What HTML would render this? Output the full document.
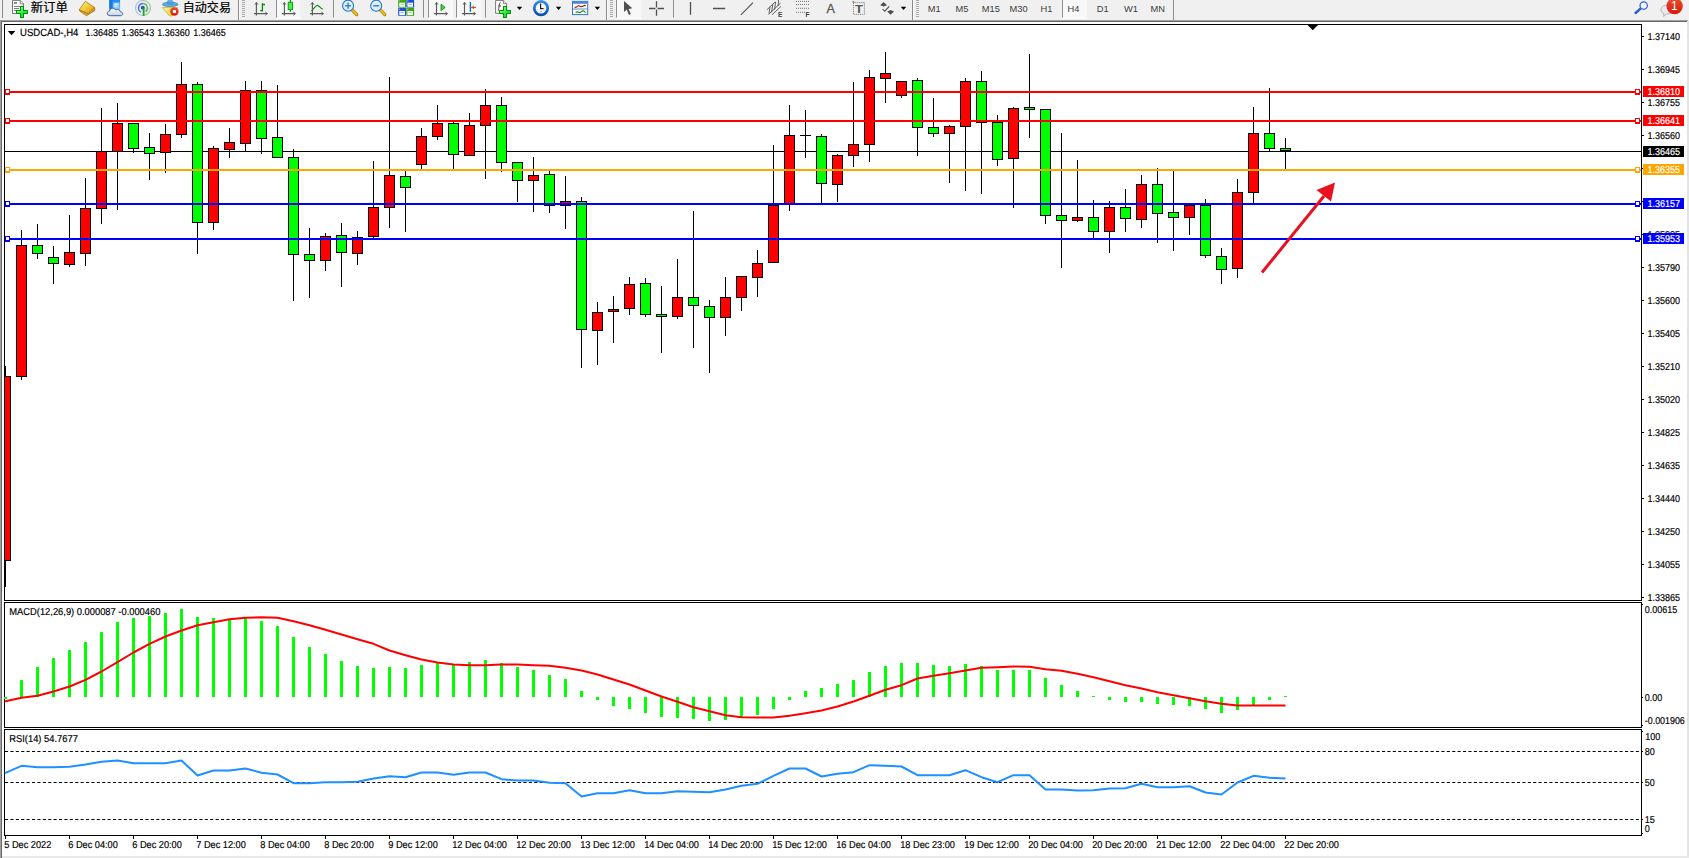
<!DOCTYPE html>
<html lang="zh"><head><meta charset="utf-8"><title>USDCAD-,H4</title>
<style>
html,body{margin:0;padding:0;}
body{width:1689px;height:858px;overflow:hidden;background:#f0f0f0;position:relative;font-family:"Liberation Sans","Noto Sans CJK SC",sans-serif;}
svg{display:block}
</style></head><body>
<svg id="chart" width="1689" height="858" viewBox="0 0 1689 858" style="position:absolute;left:0;top:0">
<g shape-rendering="crispEdges">
<rect x="0" y="19" width="1689" height="1" fill="#f4f4f4"/>
<rect x="0" y="20" width="1688" height="1" fill="#a0a0a0"/>
<rect x="0" y="21" width="1688" height="1" fill="#696969"/>
<rect x="0" y="22" width="1689" height="836" fill="#ffffff"/>
<rect x="0" y="20" width="1" height="838" fill="#a0a0a0"/>
<rect x="1" y="21" width="1" height="837" fill="#696969"/>
<rect x="1687" y="21" width="2" height="837" fill="#e3e3e3"/>
<rect x="2" y="856" width="1687" height="2" fill="#e9e9e9"/>
<rect x="5" y="151" width="1636" height="1" fill="#000"/>
<rect x="5" y="366" width="1" height="221" fill="#000"/>
<rect x="0" y="376" width="11" height="185" fill="#000"/>
<rect x="1" y="377" width="9" height="183" fill="#ff0000"/>
<rect x="21" y="230" width="1" height="150" fill="#000"/>
<rect x="16" y="245" width="11" height="132" fill="#000"/>
<rect x="17" y="246" width="9" height="130" fill="#ff0000"/>
<rect x="37" y="224" width="1" height="35" fill="#000"/>
<rect x="32" y="245" width="11" height="9" fill="#000"/>
<rect x="33" y="246" width="9" height="7" fill="#00ff00"/>
<rect x="53" y="246" width="1" height="38" fill="#000"/>
<rect x="48" y="257" width="11" height="7" fill="#000"/>
<rect x="49" y="258" width="9" height="5" fill="#00ff00"/>
<rect x="69" y="215" width="1" height="52" fill="#000"/>
<rect x="64" y="252" width="11" height="13" fill="#000"/>
<rect x="65" y="253" width="9" height="11" fill="#ff0000"/>
<rect x="85" y="178" width="1" height="88" fill="#000"/>
<rect x="80" y="208" width="11" height="46" fill="#000"/>
<rect x="81" y="209" width="9" height="44" fill="#ff0000"/>
<rect x="101" y="108" width="1" height="116" fill="#000"/>
<rect x="96" y="151" width="11" height="58" fill="#000"/>
<rect x="97" y="152" width="9" height="56" fill="#ff0000"/>
<rect x="117" y="103" width="1" height="107" fill="#000"/>
<rect x="112" y="123" width="11" height="29" fill="#000"/>
<rect x="113" y="124" width="9" height="27" fill="#ff0000"/>
<rect x="133" y="123" width="1" height="30" fill="#000"/>
<rect x="128" y="123" width="11" height="26" fill="#000"/>
<rect x="129" y="124" width="9" height="24" fill="#00ff00"/>
<rect x="149" y="133" width="1" height="47" fill="#000"/>
<rect x="144" y="147" width="11" height="7" fill="#000"/>
<rect x="145" y="148" width="9" height="5" fill="#00ff00"/>
<rect x="165" y="124" width="1" height="49" fill="#000"/>
<rect x="160" y="134" width="11" height="19" fill="#000"/>
<rect x="161" y="135" width="9" height="17" fill="#ff0000"/>
<rect x="181" y="62" width="1" height="76" fill="#000"/>
<rect x="176" y="84" width="11" height="51" fill="#000"/>
<rect x="177" y="85" width="9" height="49" fill="#ff0000"/>
<rect x="197" y="82" width="1" height="172" fill="#000"/>
<rect x="192" y="84" width="11" height="139" fill="#000"/>
<rect x="193" y="85" width="9" height="137" fill="#00ff00"/>
<rect x="213" y="146" width="1" height="84" fill="#000"/>
<rect x="208" y="148" width="11" height="75" fill="#000"/>
<rect x="209" y="149" width="9" height="73" fill="#ff0000"/>
<rect x="229" y="128" width="1" height="30" fill="#000"/>
<rect x="224" y="142" width="11" height="8" fill="#000"/>
<rect x="225" y="143" width="9" height="6" fill="#ff0000"/>
<rect x="245" y="81" width="1" height="70" fill="#000"/>
<rect x="240" y="90" width="11" height="54" fill="#000"/>
<rect x="241" y="91" width="9" height="52" fill="#ff0000"/>
<rect x="261" y="81" width="1" height="73" fill="#000"/>
<rect x="256" y="90" width="11" height="49" fill="#000"/>
<rect x="257" y="91" width="9" height="47" fill="#00ff00"/>
<rect x="277" y="85" width="1" height="73" fill="#000"/>
<rect x="272" y="137" width="11" height="21" fill="#000"/>
<rect x="273" y="138" width="9" height="19" fill="#00ff00"/>
<rect x="293" y="149" width="1" height="152" fill="#000"/>
<rect x="288" y="157" width="11" height="98" fill="#000"/>
<rect x="289" y="158" width="9" height="96" fill="#00ff00"/>
<rect x="309" y="228" width="1" height="70" fill="#000"/>
<rect x="304" y="254" width="11" height="7" fill="#000"/>
<rect x="305" y="255" width="9" height="5" fill="#00ff00"/>
<rect x="325" y="233" width="1" height="38" fill="#000"/>
<rect x="320" y="236" width="11" height="25" fill="#000"/>
<rect x="321" y="237" width="9" height="23" fill="#ff0000"/>
<rect x="341" y="223" width="1" height="64" fill="#000"/>
<rect x="336" y="235" width="11" height="18" fill="#000"/>
<rect x="337" y="236" width="9" height="16" fill="#00ff00"/>
<rect x="357" y="231" width="1" height="34" fill="#000"/>
<rect x="352" y="237" width="11" height="17" fill="#000"/>
<rect x="353" y="238" width="9" height="15" fill="#ff0000"/>
<rect x="373" y="161" width="1" height="77" fill="#000"/>
<rect x="368" y="207" width="11" height="30" fill="#000"/>
<rect x="369" y="208" width="9" height="28" fill="#ff0000"/>
<rect x="389" y="77" width="1" height="151" fill="#000"/>
<rect x="384" y="175" width="11" height="33" fill="#000"/>
<rect x="385" y="176" width="9" height="31" fill="#ff0000"/>
<rect x="405" y="171" width="1" height="61" fill="#000"/>
<rect x="400" y="176" width="11" height="12" fill="#000"/>
<rect x="401" y="177" width="9" height="10" fill="#00ff00"/>
<rect x="421" y="128" width="1" height="41" fill="#000"/>
<rect x="416" y="136" width="11" height="29" fill="#000"/>
<rect x="417" y="137" width="9" height="27" fill="#ff0000"/>
<rect x="437" y="105" width="1" height="35" fill="#000"/>
<rect x="432" y="123" width="11" height="14" fill="#000"/>
<rect x="433" y="124" width="9" height="12" fill="#ff0000"/>
<rect x="453" y="122" width="1" height="47" fill="#000"/>
<rect x="448" y="123" width="11" height="32" fill="#000"/>
<rect x="449" y="124" width="9" height="30" fill="#00ff00"/>
<rect x="469" y="113" width="1" height="43" fill="#000"/>
<rect x="464" y="125" width="11" height="31" fill="#000"/>
<rect x="465" y="126" width="9" height="29" fill="#ff0000"/>
<rect x="485" y="89" width="1" height="90" fill="#000"/>
<rect x="480" y="105" width="11" height="21" fill="#000"/>
<rect x="481" y="106" width="9" height="19" fill="#ff0000"/>
<rect x="501" y="97" width="1" height="75" fill="#000"/>
<rect x="496" y="105" width="11" height="58" fill="#000"/>
<rect x="497" y="106" width="9" height="56" fill="#00ff00"/>
<rect x="517" y="162" width="1" height="40" fill="#000"/>
<rect x="512" y="162" width="11" height="19" fill="#000"/>
<rect x="513" y="163" width="9" height="17" fill="#00ff00"/>
<rect x="533" y="157" width="1" height="55" fill="#000"/>
<rect x="528" y="175" width="11" height="6" fill="#000"/>
<rect x="529" y="176" width="9" height="4" fill="#ff0000"/>
<rect x="549" y="171" width="1" height="42" fill="#000"/>
<rect x="544" y="174" width="11" height="32" fill="#000"/>
<rect x="545" y="175" width="9" height="30" fill="#00ff00"/>
<rect x="565" y="176" width="1" height="53" fill="#000"/>
<rect x="560" y="201" width="11" height="5" fill="#000"/>
<rect x="561" y="202" width="9" height="3" fill="#ff0000"/>
<rect x="581" y="197" width="1" height="171" fill="#000"/>
<rect x="576" y="201" width="11" height="129" fill="#000"/>
<rect x="577" y="202" width="9" height="127" fill="#00ff00"/>
<rect x="597" y="302" width="1" height="63" fill="#000"/>
<rect x="592" y="312" width="11" height="19" fill="#000"/>
<rect x="593" y="313" width="9" height="17" fill="#ff0000"/>
<rect x="613" y="296" width="1" height="47" fill="#000"/>
<rect x="608" y="309" width="11" height="3" fill="#000"/>
<rect x="609" y="310" width="9" height="1" fill="#ff0000"/>
<rect x="629" y="277" width="1" height="38" fill="#000"/>
<rect x="624" y="284" width="11" height="25" fill="#000"/>
<rect x="625" y="285" width="9" height="23" fill="#ff0000"/>
<rect x="645" y="278" width="1" height="39" fill="#000"/>
<rect x="640" y="283" width="11" height="32" fill="#000"/>
<rect x="641" y="284" width="9" height="30" fill="#00ff00"/>
<rect x="661" y="286" width="1" height="67" fill="#000"/>
<rect x="656" y="314" width="11" height="3" fill="#000"/>
<rect x="657" y="315" width="9" height="1" fill="#00ff00"/>
<rect x="677" y="259" width="1" height="60" fill="#000"/>
<rect x="672" y="297" width="11" height="20" fill="#000"/>
<rect x="673" y="298" width="9" height="18" fill="#ff0000"/>
<rect x="693" y="211" width="1" height="137" fill="#000"/>
<rect x="688" y="297" width="11" height="9" fill="#000"/>
<rect x="689" y="298" width="9" height="7" fill="#00ff00"/>
<rect x="709" y="300" width="1" height="73" fill="#000"/>
<rect x="704" y="306" width="11" height="12" fill="#000"/>
<rect x="705" y="307" width="9" height="10" fill="#00ff00"/>
<rect x="725" y="277" width="1" height="59" fill="#000"/>
<rect x="720" y="297" width="11" height="21" fill="#000"/>
<rect x="721" y="298" width="9" height="19" fill="#ff0000"/>
<rect x="741" y="276" width="1" height="35" fill="#000"/>
<rect x="736" y="276" width="11" height="22" fill="#000"/>
<rect x="737" y="277" width="9" height="20" fill="#ff0000"/>
<rect x="757" y="250" width="1" height="47" fill="#000"/>
<rect x="752" y="263" width="11" height="15" fill="#000"/>
<rect x="753" y="264" width="9" height="13" fill="#ff0000"/>
<rect x="773" y="145" width="1" height="118" fill="#000"/>
<rect x="768" y="205" width="11" height="58" fill="#000"/>
<rect x="769" y="206" width="9" height="56" fill="#ff0000"/>
<rect x="789" y="105" width="1" height="106" fill="#000"/>
<rect x="784" y="135" width="11" height="70" fill="#000"/>
<rect x="785" y="136" width="9" height="68" fill="#ff0000"/>
<rect x="805" y="110" width="1" height="48" fill="#000"/>
<rect x="800" y="135" width="11" height="1" fill="#000"/>
<rect x="821" y="134" width="1" height="69" fill="#000"/>
<rect x="816" y="136" width="11" height="48" fill="#000"/>
<rect x="817" y="137" width="9" height="46" fill="#00ff00"/>
<rect x="837" y="154" width="1" height="48" fill="#000"/>
<rect x="832" y="155" width="11" height="30" fill="#000"/>
<rect x="833" y="156" width="9" height="28" fill="#ff0000"/>
<rect x="853" y="82" width="1" height="85" fill="#000"/>
<rect x="848" y="144" width="11" height="12" fill="#000"/>
<rect x="849" y="145" width="9" height="10" fill="#ff0000"/>
<rect x="869" y="70" width="1" height="92" fill="#000"/>
<rect x="864" y="77" width="11" height="68" fill="#000"/>
<rect x="865" y="78" width="9" height="66" fill="#ff0000"/>
<rect x="885" y="52" width="1" height="51" fill="#000"/>
<rect x="880" y="73" width="11" height="6" fill="#000"/>
<rect x="881" y="74" width="9" height="4" fill="#ff0000"/>
<rect x="901" y="81" width="1" height="17" fill="#000"/>
<rect x="896" y="81" width="11" height="15" fill="#000"/>
<rect x="897" y="82" width="9" height="13" fill="#ff0000"/>
<rect x="917" y="78" width="1" height="78" fill="#000"/>
<rect x="912" y="80" width="11" height="48" fill="#000"/>
<rect x="913" y="81" width="9" height="46" fill="#00ff00"/>
<rect x="933" y="98" width="1" height="39" fill="#000"/>
<rect x="928" y="127" width="11" height="7" fill="#000"/>
<rect x="929" y="128" width="9" height="5" fill="#00ff00"/>
<rect x="949" y="125" width="1" height="58" fill="#000"/>
<rect x="944" y="126" width="11" height="8" fill="#000"/>
<rect x="945" y="127" width="9" height="6" fill="#ff0000"/>
<rect x="965" y="78" width="1" height="113" fill="#000"/>
<rect x="960" y="81" width="11" height="46" fill="#000"/>
<rect x="961" y="82" width="9" height="44" fill="#ff0000"/>
<rect x="981" y="71" width="1" height="123" fill="#000"/>
<rect x="976" y="81" width="11" height="42" fill="#000"/>
<rect x="977" y="82" width="9" height="40" fill="#00ff00"/>
<rect x="997" y="115" width="1" height="51" fill="#000"/>
<rect x="992" y="122" width="11" height="38" fill="#000"/>
<rect x="993" y="123" width="9" height="36" fill="#00ff00"/>
<rect x="1013" y="107" width="1" height="101" fill="#000"/>
<rect x="1008" y="108" width="11" height="51" fill="#000"/>
<rect x="1009" y="109" width="9" height="49" fill="#ff0000"/>
<rect x="1029" y="54" width="1" height="84" fill="#000"/>
<rect x="1024" y="107" width="11" height="3" fill="#000"/>
<rect x="1025" y="108" width="9" height="1" fill="#00ff00"/>
<rect x="1045" y="109" width="1" height="115" fill="#000"/>
<rect x="1040" y="109" width="11" height="107" fill="#000"/>
<rect x="1041" y="110" width="9" height="105" fill="#00ff00"/>
<rect x="1061" y="133" width="1" height="135" fill="#000"/>
<rect x="1056" y="215" width="11" height="6" fill="#000"/>
<rect x="1057" y="216" width="9" height="4" fill="#00ff00"/>
<rect x="1077" y="160" width="1" height="62" fill="#000"/>
<rect x="1072" y="217" width="11" height="4" fill="#000"/>
<rect x="1073" y="218" width="9" height="2" fill="#ff0000"/>
<rect x="1093" y="200" width="1" height="38" fill="#000"/>
<rect x="1088" y="217" width="11" height="15" fill="#000"/>
<rect x="1089" y="218" width="9" height="13" fill="#00ff00"/>
<rect x="1109" y="201" width="1" height="52" fill="#000"/>
<rect x="1104" y="207" width="11" height="25" fill="#000"/>
<rect x="1105" y="208" width="9" height="23" fill="#ff0000"/>
<rect x="1125" y="189" width="1" height="43" fill="#000"/>
<rect x="1120" y="207" width="11" height="12" fill="#000"/>
<rect x="1121" y="208" width="9" height="10" fill="#00ff00"/>
<rect x="1141" y="175" width="1" height="53" fill="#000"/>
<rect x="1136" y="184" width="11" height="36" fill="#000"/>
<rect x="1137" y="185" width="9" height="34" fill="#ff0000"/>
<rect x="1157" y="168" width="1" height="75" fill="#000"/>
<rect x="1152" y="184" width="11" height="30" fill="#000"/>
<rect x="1153" y="185" width="9" height="28" fill="#00ff00"/>
<rect x="1173" y="171" width="1" height="80" fill="#000"/>
<rect x="1168" y="212" width="11" height="6" fill="#000"/>
<rect x="1169" y="213" width="9" height="4" fill="#00ff00"/>
<rect x="1189" y="205" width="1" height="30" fill="#000"/>
<rect x="1184" y="205" width="11" height="13" fill="#000"/>
<rect x="1185" y="206" width="9" height="11" fill="#ff0000"/>
<rect x="1205" y="199" width="1" height="59" fill="#000"/>
<rect x="1200" y="205" width="11" height="51" fill="#000"/>
<rect x="1201" y="206" width="9" height="49" fill="#00ff00"/>
<rect x="1221" y="248" width="1" height="36" fill="#000"/>
<rect x="1216" y="256" width="11" height="14" fill="#000"/>
<rect x="1217" y="257" width="9" height="12" fill="#00ff00"/>
<rect x="1237" y="179" width="1" height="99" fill="#000"/>
<rect x="1232" y="192" width="11" height="77" fill="#000"/>
<rect x="1233" y="193" width="9" height="75" fill="#ff0000"/>
<rect x="1253" y="107" width="1" height="96" fill="#000"/>
<rect x="1248" y="133" width="11" height="60" fill="#000"/>
<rect x="1249" y="134" width="9" height="58" fill="#ff0000"/>
<rect x="1269" y="88" width="1" height="63" fill="#000"/>
<rect x="1264" y="133" width="11" height="16" fill="#000"/>
<rect x="1265" y="134" width="9" height="14" fill="#00ff00"/>
<rect x="1285" y="138" width="1" height="31" fill="#000"/>
<rect x="1280" y="148" width="11" height="3" fill="#000"/>
<rect x="1281" y="149" width="9" height="1" fill="#00ff00"/>
<rect x="2" y="22" width="2" height="834" fill="#fff"/>
<rect x="0" y="22" width="1" height="836" fill="#a0a0a0"/><rect x="1" y="22" width="1" height="836" fill="#696969"/>
<rect x="5" y="91" width="1636" height="2" fill="#ff0000"/>
<rect x="5" y="89" width="5" height="6" fill="#ff0000"/><rect x="6" y="90" width="3" height="3" fill="#fff"/>
<rect x="1635" y="89" width="5" height="6" fill="#ff0000"/><rect x="1636" y="90" width="3" height="3" fill="#fff"/>
<rect x="5" y="120" width="1636" height="2" fill="#ff0000"/>
<rect x="5" y="118" width="5" height="6" fill="#ff0000"/><rect x="6" y="119" width="3" height="3" fill="#fff"/>
<rect x="1635" y="118" width="5" height="6" fill="#ff0000"/><rect x="1636" y="119" width="3" height="3" fill="#fff"/>
<rect x="5" y="169" width="1636" height="2" fill="#ffa500"/>
<rect x="5" y="167" width="5" height="6" fill="#ffa500"/><rect x="6" y="168" width="3" height="3" fill="#fff"/>
<rect x="1635" y="167" width="5" height="6" fill="#ffa500"/><rect x="1636" y="168" width="3" height="3" fill="#fff"/>
<rect x="5" y="203" width="1636" height="2" fill="#0000ff"/>
<rect x="5" y="201" width="5" height="6" fill="#0000ff"/><rect x="6" y="202" width="3" height="3" fill="#fff"/>
<rect x="1635" y="201" width="5" height="6" fill="#0000ff"/><rect x="1636" y="202" width="3" height="3" fill="#fff"/>
<rect x="5" y="238" width="1636" height="2" fill="#0000ff"/>
<rect x="5" y="236" width="5" height="6" fill="#0000ff"/><rect x="6" y="237" width="3" height="3" fill="#fff"/>
<rect x="1635" y="236" width="5" height="6" fill="#0000ff"/><rect x="1636" y="237" width="3" height="3" fill="#fff"/>
<rect x="4" y="24" width="1638" height="1" fill="#000"/>
<rect x="4" y="600" width="1638" height="1" fill="#000"/>
<rect x="4" y="602" width="1638" height="1" fill="#000"/>
<rect x="4" y="727" width="1638" height="1" fill="#000"/>
<rect x="4" y="729" width="1638" height="1" fill="#000"/>
<rect x="4" y="835" width="1638" height="1" fill="#000"/>
<rect x="4" y="24" width="1" height="577" fill="#000"/>
<rect x="1641" y="24" width="1" height="577" fill="#000"/>
<rect x="4" y="602" width="1" height="126" fill="#000"/>
<rect x="1641" y="602" width="1" height="126" fill="#000"/>
<rect x="4" y="729" width="1" height="107" fill="#000"/>
<rect x="1641" y="729" width="1" height="107" fill="#000"/>
<rect x="1642" y="36" width="2" height="1" fill="#000"/>
<rect x="1642" y="69" width="2" height="1" fill="#000"/>
<rect x="1642" y="102" width="2" height="1" fill="#000"/>
<rect x="1642" y="135" width="2" height="1" fill="#000"/>
<rect x="1642" y="168" width="2" height="1" fill="#000"/>
<rect x="1642" y="201" width="2" height="1" fill="#000"/>
<rect x="1642" y="234" width="2" height="1" fill="#000"/>
<rect x="1642" y="267" width="2" height="1" fill="#000"/>
<rect x="1642" y="300" width="2" height="1" fill="#000"/>
<rect x="1642" y="333" width="2" height="1" fill="#000"/>
<rect x="1642" y="366" width="2" height="1" fill="#000"/>
<rect x="1642" y="399" width="2" height="1" fill="#000"/>
<rect x="1642" y="432" width="2" height="1" fill="#000"/>
<rect x="1642" y="465" width="2" height="1" fill="#000"/>
<rect x="1642" y="498" width="2" height="1" fill="#000"/>
<rect x="1642" y="531" width="2" height="1" fill="#000"/>
<rect x="1642" y="564" width="2" height="1" fill="#000"/>
<rect x="1642" y="597" width="2" height="1" fill="#000"/>
<rect x="1642" y="604" width="1" height="1" fill="#000"/>
<rect x="1642" y="697" width="1" height="1" fill="#000"/>
<rect x="1642" y="725" width="1" height="1" fill="#000"/>
<rect x="1642" y="731" width="1" height="1" fill="#000"/>
<rect x="1642" y="751" width="1" height="1" fill="#000"/>
<rect x="1642" y="782" width="1" height="1" fill="#000"/>
<rect x="1642" y="819" width="1" height="1" fill="#000"/>
<rect x="1642" y="833" width="1" height="1" fill="#000"/>
<rect x="5" y="836" width="1" height="3" fill="#000"/>
<rect x="69" y="836" width="1" height="3" fill="#000"/>
<rect x="133" y="836" width="1" height="3" fill="#000"/>
<rect x="197" y="836" width="1" height="3" fill="#000"/>
<rect x="261" y="836" width="1" height="3" fill="#000"/>
<rect x="325" y="836" width="1" height="3" fill="#000"/>
<rect x="389" y="836" width="1" height="3" fill="#000"/>
<rect x="453" y="836" width="1" height="3" fill="#000"/>
<rect x="517" y="836" width="1" height="3" fill="#000"/>
<rect x="581" y="836" width="1" height="3" fill="#000"/>
<rect x="645" y="836" width="1" height="3" fill="#000"/>
<rect x="709" y="836" width="1" height="3" fill="#000"/>
<rect x="773" y="836" width="1" height="3" fill="#000"/>
<rect x="837" y="836" width="1" height="3" fill="#000"/>
<rect x="901" y="836" width="1" height="3" fill="#000"/>
<rect x="965" y="836" width="1" height="3" fill="#000"/>
<rect x="1029" y="836" width="1" height="3" fill="#000"/>
<rect x="1093" y="836" width="1" height="3" fill="#000"/>
<rect x="1157" y="836" width="1" height="3" fill="#000"/>
<rect x="1221" y="836" width="1" height="3" fill="#000"/>
<rect x="1285" y="836" width="1" height="3" fill="#000"/>
<rect x="4" y="697" width="3" height="2" fill="#00ff00"/>
<rect x="20" y="680" width="3" height="17" fill="#00ff00"/>
<rect x="36" y="667" width="3" height="30" fill="#00ff00"/>
<rect x="52" y="658" width="3" height="39" fill="#00ff00"/>
<rect x="68" y="650" width="3" height="47" fill="#00ff00"/>
<rect x="84" y="642" width="3" height="55" fill="#00ff00"/>
<rect x="100" y="632" width="3" height="65" fill="#00ff00"/>
<rect x="116" y="622" width="3" height="75" fill="#00ff00"/>
<rect x="132" y="618" width="3" height="79" fill="#00ff00"/>
<rect x="148" y="616" width="3" height="81" fill="#00ff00"/>
<rect x="164" y="613" width="3" height="84" fill="#00ff00"/>
<rect x="180" y="609" width="3" height="88" fill="#00ff00"/>
<rect x="196" y="617" width="3" height="80" fill="#00ff00"/>
<rect x="212" y="618" width="3" height="79" fill="#00ff00"/>
<rect x="228" y="619" width="3" height="78" fill="#00ff00"/>
<rect x="244" y="618" width="3" height="79" fill="#00ff00"/>
<rect x="260" y="621" width="3" height="76" fill="#00ff00"/>
<rect x="276" y="626" width="3" height="71" fill="#00ff00"/>
<rect x="292" y="637" width="3" height="60" fill="#00ff00"/>
<rect x="308" y="647" width="3" height="50" fill="#00ff00"/>
<rect x="324" y="654" width="3" height="43" fill="#00ff00"/>
<rect x="340" y="661" width="3" height="36" fill="#00ff00"/>
<rect x="356" y="666" width="3" height="31" fill="#00ff00"/>
<rect x="372" y="668" width="3" height="29" fill="#00ff00"/>
<rect x="388" y="667" width="3" height="30" fill="#00ff00"/>
<rect x="404" y="668" width="3" height="29" fill="#00ff00"/>
<rect x="420" y="665" width="3" height="32" fill="#00ff00"/>
<rect x="436" y="663" width="3" height="34" fill="#00ff00"/>
<rect x="452" y="664" width="3" height="33" fill="#00ff00"/>
<rect x="468" y="662" width="3" height="35" fill="#00ff00"/>
<rect x="484" y="660" width="3" height="37" fill="#00ff00"/>
<rect x="500" y="663" width="3" height="34" fill="#00ff00"/>
<rect x="516" y="667" width="3" height="30" fill="#00ff00"/>
<rect x="532" y="670" width="3" height="27" fill="#00ff00"/>
<rect x="548" y="675" width="3" height="22" fill="#00ff00"/>
<rect x="564" y="679" width="3" height="18" fill="#00ff00"/>
<rect x="580" y="691" width="3" height="6" fill="#00ff00"/>
<rect x="596" y="697" width="3" height="3" fill="#00ff00"/>
<rect x="612" y="697" width="3" height="9" fill="#00ff00"/>
<rect x="628" y="697" width="3" height="12" fill="#00ff00"/>
<rect x="644" y="697" width="3" height="16" fill="#00ff00"/>
<rect x="660" y="697" width="3" height="20" fill="#00ff00"/>
<rect x="676" y="697" width="3" height="21" fill="#00ff00"/>
<rect x="692" y="697" width="3" height="22" fill="#00ff00"/>
<rect x="708" y="697" width="3" height="24" fill="#00ff00"/>
<rect x="724" y="697" width="3" height="23" fill="#00ff00"/>
<rect x="740" y="697" width="3" height="21" fill="#00ff00"/>
<rect x="756" y="697" width="3" height="18" fill="#00ff00"/>
<rect x="772" y="697" width="3" height="12" fill="#00ff00"/>
<rect x="788" y="697" width="3" height="3" fill="#00ff00"/>
<rect x="804" y="691" width="3" height="6" fill="#00ff00"/>
<rect x="820" y="688" width="3" height="9" fill="#00ff00"/>
<rect x="836" y="684" width="3" height="13" fill="#00ff00"/>
<rect x="852" y="680" width="3" height="17" fill="#00ff00"/>
<rect x="868" y="672" width="3" height="25" fill="#00ff00"/>
<rect x="884" y="666" width="3" height="31" fill="#00ff00"/>
<rect x="900" y="663" width="3" height="34" fill="#00ff00"/>
<rect x="916" y="663" width="3" height="34" fill="#00ff00"/>
<rect x="932" y="665" width="3" height="32" fill="#00ff00"/>
<rect x="948" y="666" width="3" height="31" fill="#00ff00"/>
<rect x="964" y="664" width="3" height="33" fill="#00ff00"/>
<rect x="980" y="666" width="3" height="31" fill="#00ff00"/>
<rect x="996" y="670" width="3" height="27" fill="#00ff00"/>
<rect x="1012" y="670" width="3" height="27" fill="#00ff00"/>
<rect x="1028" y="670" width="3" height="27" fill="#00ff00"/>
<rect x="1044" y="678" width="3" height="19" fill="#00ff00"/>
<rect x="1060" y="685" width="3" height="12" fill="#00ff00"/>
<rect x="1076" y="691" width="3" height="6" fill="#00ff00"/>
<rect x="1092" y="696" width="3" height="1" fill="#00ff00"/>
<rect x="1108" y="697" width="3" height="3" fill="#00ff00"/>
<rect x="1124" y="697" width="3" height="5" fill="#00ff00"/>
<rect x="1140" y="697" width="3" height="5" fill="#00ff00"/>
<rect x="1156" y="697" width="3" height="7" fill="#00ff00"/>
<rect x="1172" y="697" width="3" height="8" fill="#00ff00"/>
<rect x="1188" y="697" width="3" height="9" fill="#00ff00"/>
<rect x="1204" y="697" width="3" height="12" fill="#00ff00"/>
<rect x="1220" y="697" width="3" height="16" fill="#00ff00"/>
<rect x="1236" y="697" width="3" height="13" fill="#00ff00"/>
<rect x="1252" y="697" width="3" height="8" fill="#00ff00"/>
<rect x="1268" y="697" width="3" height="3" fill="#00ff00"/>
<rect x="1284" y="696" width="3" height="1" fill="#00ff00"/>
</g>
<rect x="2" y="603" width="2" height="124" fill="#fff"/>
<line x1="5" y1="751.5" x2="1641" y2="751.5" stroke="#000" stroke-width="1" stroke-dasharray="3.1 2.3"/>
<line x1="5" y1="782.5" x2="1641" y2="782.5" stroke="#000" stroke-width="1" stroke-dasharray="3.1 2.3"/>
<line x1="5" y1="819.5" x2="1641" y2="819.5" stroke="#000" stroke-width="1" stroke-dasharray="3.1 2.3"/>
<polyline points="5,701.4 5.5,701.2 21.5,697.8 37.5,695.8 53.5,691.5 69.5,686.5 85.5,679.8 101.5,671.5 117.5,662.2 133.5,652.5 149.5,643.8 165.5,636.5 181.5,630.5 197.5,625.2 213.5,622.2 229.5,619.2 245.5,617.8 261.5,617.2 277.5,617.8 293.5,621.2 309.5,625.2 325.5,629.8 341.5,634.5 357.5,639.2 373.5,643.8 389.5,650.5 405.5,655.2 421.5,659.5 437.5,662.5 453.5,664.5 469.5,665.2 485.5,665.2 501.5,664.5 517.5,664.5 533.5,665.2 549.5,665.8 565.5,667.8 581.5,670.5 597.5,674.5 613.5,679.5 629.5,684.5 645.5,690.5 661.5,696.5 677.5,701.8 693.5,707.2 709.5,711.2 725.5,715.2 741.5,717.2 757.5,717.5 773.5,717.5 789.5,715.8 805.5,713.2 821.5,710.5 837.5,706.5 853.5,701.5 869.5,695.8 885.5,689.8 901.5,685.2 917.5,678.5 933.5,675.8 949.5,673.2 965.5,670.5 981.5,667.8 997.5,667.2 1013.5,666.5 1029.5,666.8 1045.5,669.2 1061.5,670.8 1077.5,673.8 1093.5,677.2 1109.5,681.2 1125.5,685.2 1141.5,688.5 1157.5,692.2 1173.5,695.2 1189.5,698.2 1205.5,701.2 1221.5,703.8 1237.5,705.5 1253.5,705.5 1269.5,705.5 1285.5,705.5" fill="none" stroke="#ff0000" stroke-width="2" stroke-linejoin="round"/>
<polyline points="5,773.2 5.5,772.8 21.5,765.8 37.5,767.2 53.5,767.2 69.5,766.8 85.5,764.5 101.5,761.8 117.5,760.5 133.5,763.2 149.5,763.2 165.5,763.2 181.5,760.5 197.5,775.5 213.5,770.5 229.5,770.5 245.5,768.5 261.5,772.8 277.5,774.5 293.5,783.2 309.5,783.2 325.5,782.2 341.5,782.2 357.5,781.8 373.5,778.5 389.5,776.2 405.5,777.2 421.5,772.5 437.5,772.5 453.5,774.8 469.5,772.5 485.5,772.5 501.5,779.2 517.5,780.5 533.5,780.5 549.5,782.8 565.5,783.2 581.5,796.5 597.5,793.2 613.5,793.2 629.5,790.2 645.5,793.2 661.5,793.2 677.5,791.2 693.5,791.8 709.5,792.2 725.5,789.5 741.5,785.8 757.5,783.8 773.5,775.8 789.5,768.5 805.5,768.5 821.5,776.5 837.5,773.8 853.5,772.2 869.5,765.2 885.5,765.8 901.5,766.5 917.5,775.2 933.5,775.2 949.5,775.2 965.5,770.2 981.5,777.2 997.5,782.2 1013.5,775.2 1029.5,775.2 1045.5,789.5 1061.5,789.5 1077.5,790.5 1093.5,790.2 1109.5,788.5 1125.5,788.2 1141.5,783.8 1157.5,787.2 1173.5,787.2 1189.5,786.2 1205.5,792.5 1221.5,794.5 1237.5,782.5 1253.5,775.8 1269.5,777.8 1285.5,778.5" fill="none" stroke="#1e90ff" stroke-width="2" stroke-linejoin="round"/>
<line x1="1262" y1="272.5" x2="1324" y2="196" stroke="#e8111f" stroke-width="3"/>
<polygon points="1335,182.5 1316.5,190 1331,201.5" fill="#e8111f"/>
<polygon points="1307.5,25 1318,25 1312.75,30.2" fill="#000"/>
<polygon points="7.8,31 15.3,31 11.55,35.2" fill="#000"/>
<g font-family='"Liberation Sans", Arial, sans-serif' font-size="10px" fill="#000" stroke="#000" stroke-width="0.18" text-rendering="geometricPrecision">
<text transform="translate(20 36) scale(0.919 1)" font-size="10.4px">USDCAD-,H4</text>
<text transform="translate(85.6 35.8) scale(0.9 1)">1.36485</text>
<text transform="translate(121.6 35.8) scale(0.9 1)">1.36543</text>
<text transform="translate(157.3 35.8) scale(0.9 1)">1.36360</text>
<text transform="translate(193.3 35.8) scale(0.9 1)">1.36465</text>
<text transform="translate(9.3 614.8) scale(0.934 1)">MACD(12,26,9) 0.000087 -0.000460</text>
<text transform="translate(9.3 741.6) scale(0.934 1)">RSI(14) 54.7677</text>
<text transform="translate(1647.4 39.7) scale(0.9 1)">1.37140</text>
<text transform="translate(1647.4 72.7) scale(0.9 1)">1.36945</text>
<text transform="translate(1647.4 105.7) scale(0.9 1)">1.36755</text>
<text transform="translate(1647.4 138.7) scale(0.9 1)">1.36560</text>
<text transform="translate(1647.4 171.7) scale(0.9 1)">1.36370</text>
<text transform="translate(1647.4 204.7) scale(0.9 1)">1.36175</text>
<text transform="translate(1647.4 237.7) scale(0.9 1)">1.35985</text>
<text transform="translate(1647.4 270.7) scale(0.9 1)">1.35790</text>
<text transform="translate(1647.4 303.7) scale(0.9 1)">1.35600</text>
<text transform="translate(1647.4 336.7) scale(0.9 1)">1.35405</text>
<text transform="translate(1647.4 369.7) scale(0.9 1)">1.35210</text>
<text transform="translate(1647.4 402.7) scale(0.9 1)">1.35020</text>
<text transform="translate(1647.4 435.7) scale(0.9 1)">1.34825</text>
<text transform="translate(1647.4 468.7) scale(0.9 1)">1.34635</text>
<text transform="translate(1647.4 501.7) scale(0.9 1)">1.34440</text>
<text transform="translate(1647.4 534.7) scale(0.9 1)">1.34250</text>
<text transform="translate(1647.4 567.7) scale(0.9 1)">1.34055</text>
<text transform="translate(1647.4 600.7) scale(0.9 1)">1.33865</text>
</g>
<g font-family='"Liberation Sans", Arial, sans-serif' font-size="10px" fill="#000" stroke="#000" stroke-width="0.18" text-rendering="geometricPrecision">
<rect x="1643" y="86" width="41" height="11" fill="#ff0000" stroke="none" shape-rendering="crispEdges"/>
<text transform="translate(1647.4 95.2) scale(0.9 1)" fill="#fff" stroke="#fff">1.36810</text>
<rect x="1643" y="115" width="41" height="11" fill="#ff0000" stroke="none" shape-rendering="crispEdges"/>
<text transform="translate(1647.4 124.2) scale(0.9 1)" fill="#fff" stroke="#fff">1.36641</text>
<rect x="1643" y="164" width="41" height="11" fill="#ffa500" stroke="none" shape-rendering="crispEdges"/>
<text transform="translate(1647.4 173.2) scale(0.9 1)" fill="#fff" stroke="#fff">1.36355</text>
<rect x="1643" y="198" width="41" height="11" fill="#0000ff" stroke="none" shape-rendering="crispEdges"/>
<text transform="translate(1647.4 207.2) scale(0.9 1)" fill="#fff" stroke="#fff">1.36157</text>
<rect x="1643" y="233" width="41" height="11" fill="#0000ff" stroke="none" shape-rendering="crispEdges"/>
<text transform="translate(1647.4 242.2) scale(0.9 1)" fill="#fff" stroke="#fff">1.35953</text>
<rect x="1643" y="146" width="41" height="11" fill="#000" stroke="none" shape-rendering="crispEdges"/>
<text transform="translate(1647.4 154.8) scale(0.9 1)" fill="#fff" stroke="#fff">1.36465</text>
<text transform="translate(1644.8 613) scale(0.9 1)">0.00615</text>
<text transform="translate(1644.8 701) scale(0.9 1)">0.00</text>
<text transform="translate(1644.8 723.9) scale(0.887 1)">-0.001906</text>
<text transform="translate(1645.3 739.9) scale(0.9 1)">100</text>
<text transform="translate(1644.8 755) scale(0.9 1)">80</text>
<text transform="translate(1644.8 786) scale(0.9 1)">50</text>
<text transform="translate(1644.8 823) scale(0.9 1)">15</text>
<text transform="translate(1644.8 832) scale(0.9 1)">0</text>
<text transform="translate(4.2 847.9) scale(0.921 1)">5 Dec 2022</text>
<text transform="translate(68.2 847.9) scale(0.921 1)">6 Dec 04:00</text>
<text transform="translate(132.2 847.9) scale(0.921 1)">6 Dec 20:00</text>
<text transform="translate(196.2 847.9) scale(0.921 1)">7 Dec 12:00</text>
<text transform="translate(260.2 847.9) scale(0.921 1)">8 Dec 04:00</text>
<text transform="translate(324.2 847.9) scale(0.921 1)">8 Dec 20:00</text>
<text transform="translate(388.2 847.9) scale(0.921 1)">9 Dec 12:00</text>
<text transform="translate(452.2 847.9) scale(0.921 1)">12 Dec 04:00</text>
<text transform="translate(516.2 847.9) scale(0.921 1)">12 Dec 20:00</text>
<text transform="translate(580.2 847.9) scale(0.921 1)">13 Dec 12:00</text>
<text transform="translate(644.2 847.9) scale(0.921 1)">14 Dec 04:00</text>
<text transform="translate(708.2 847.9) scale(0.921 1)">14 Dec 20:00</text>
<text transform="translate(772.2 847.9) scale(0.921 1)">15 Dec 12:00</text>
<text transform="translate(836.2 847.9) scale(0.921 1)">16 Dec 04:00</text>
<text transform="translate(900.2 847.9) scale(0.921 1)">18 Dec 23:00</text>
<text transform="translate(964.2 847.9) scale(0.921 1)">19 Dec 12:00</text>
<text transform="translate(1028.2 847.9) scale(0.921 1)">20 Dec 04:00</text>
<text transform="translate(1092.2 847.9) scale(0.921 1)">20 Dec 20:00</text>
<text transform="translate(1156.2 847.9) scale(0.921 1)">21 Dec 12:00</text>
<text transform="translate(1220.2 847.9) scale(0.921 1)">22 Dec 04:00</text>
<text transform="translate(1284.2 847.9) scale(0.921 1)">22 Dec 20:00</text>
</g>
</svg>
<svg id="toolbar" width="1689" height="20" viewBox="0 0 1689 20" style="position:absolute;left:0;top:0;overflow:hidden">
<defs>
<linearGradient id="gp" x1="0" y1="0" x2="1" y2="1"><stop offset="0" stop-color="#a4ffa4"/><stop offset="0.55" stop-color="#22f03a"/><stop offset="1" stop-color="#00d21c"/></linearGradient>
<linearGradient id="gold" x1="0" y1="0" x2="1" y2="1"><stop offset="0" stop-color="#fff08a"/><stop offset="0.5" stop-color="#f2c838"/><stop offset="1" stop-color="#cc8c10"/></linearGradient>
<linearGradient id="bl" x1="0" y1="0" x2="0" y2="1"><stop offset="0" stop-color="#1e86ee"/><stop offset="1" stop-color="#56b8ff"/></linearGradient>
<linearGradient id="cl" x1="0" y1="0" x2="0" y2="1"><stop offset="0" stop-color="#ffffff"/><stop offset="1" stop-color="#c4d2ea"/></linearGradient>
<linearGradient id="rd" x1="0" y1="0" x2="0" y2="1"><stop offset="0" stop-color="#e85030"/><stop offset="1" stop-color="#d81808"/></linearGradient>
<linearGradient id="clk" x1="0" y1="0" x2="0" y2="1"><stop offset="0" stop-color="#2a8cf0"/><stop offset="1" stop-color="#0a4fb0"/></linearGradient>
<g id="axes" fill="none" stroke="#5a5a5a" stroke-width="1.15"><path d="M2.4,2.6V15.6M0,13.6H13.2"/><path d="M0.9,4.6L2.4,2.6L3.9,4.6M11.4,12.1L13.4,13.6L11.4,15.1" stroke-width="1"/></g>
<path id="dd" d="M0,0H5.4L2.7,3.3Z" fill="#000"/>
<g id="plus" shape-rendering="crispEdges"><path d="M-2,-6h4v4h4v4h-4v4h-4v-4h-4v-4h4z" fill="#0b8f0b"/><path d="M-1,-5h2v4h4v2h-4v4h-2v-4h-4v-2h4z" fill="url(#gp)"/></g>
<g id="grip" fill="#ababab" shape-rendering="crispEdges"><rect x="0" y="0" width="3" height="1"/><rect x="0" y="2" width="3" height="1"/><rect x="0" y="4" width="3" height="1"/><rect x="0" y="6" width="3" height="1"/><rect x="0" y="8" width="3" height="1"/><rect x="0" y="10" width="3" height="1"/><rect x="0" y="12" width="3" height="1"/><rect x="0" y="14" width="3" height="1"/><rect x="0" y="16" width="3" height="1"/></g>
</defs>
<rect x="0" y="0" width="1689" height="20" fill="#f0f0f0"/>
<rect x="277" y="0" width="23.5" height="18" fill="#f8f8f8"/><rect x="276" y="18" width="25.5" height="1" fill="#fdfdfd"/>
<rect x="429" y="0" width="24" height="18" fill="#f8f8f8"/><rect x="428" y="18" width="26" height="1" fill="#fdfdfd"/>
<rect x="457" y="0" width="24.3" height="18" fill="#f8f8f8"/><rect x="456" y="18" width="26.3" height="1" fill="#fdfdfd"/>
<rect x="617" y="0" width="24" height="18" fill="#f8f8f8"/><rect x="616" y="18" width="26" height="1" fill="#fdfdfd"/>
<rect x="1063" y="0" width="24" height="18" fill="#f8f8f8"/><rect x="1062" y="18" width="26" height="1" fill="#fdfdfd"/>
<rect x="2" y="0" width="1" height="18" fill="#8a8a8a"/>
<rect x="238" y="0" width="1" height="20" fill="#8a8a8a"/><rect x="239" y="0" width="1" height="20" fill="#fafafa"/>
<rect x="606" y="0" width="1" height="20" fill="#8a8a8a"/><rect x="607" y="0" width="1" height="20" fill="#fafafa"/>
<rect x="912" y="0" width="1" height="20" fill="#8a8a8a"/><rect x="913" y="0" width="1" height="20" fill="#fafafa"/>
<rect x="1173" y="0" width="1" height="20" fill="#8f8f8f"/>
<rect x="276" y="0" width="1" height="17.6" fill="#8f8f8f"/>
<rect x="333" y="0" width="1" height="17.6" fill="#8f8f8f"/>
<rect x="423" y="0" width="1" height="17.6" fill="#8f8f8f"/>
<rect x="428" y="0" width="1" height="17.6" fill="#8f8f8f"/>
<rect x="456" y="0" width="1" height="17.6" fill="#8f8f8f"/>
<rect x="485" y="0" width="1" height="17.6" fill="#8f8f8f"/>
<rect x="616" y="0" width="1" height="17.6" fill="#8f8f8f"/>
<rect x="673" y="0" width="1" height="17.6" fill="#8f8f8f"/>
<rect x="1062" y="0" width="1" height="17.6" fill="#8f8f8f"/>
<use href="#grip" x="242" y="0"/>
<use href="#grip" x="610" y="0"/>
<use href="#grip" x="916" y="0"/>
<g><path d="M12.5,0.4H20.2L23.5,3.8V13.5H12.5Z" fill="#fff" stroke="#787878" stroke-width="1"/><path d="M20.2,0.4V3.8H23.5" fill="#f4f4f4" stroke="#787878" stroke-width="0.9"/><g shape-rendering="crispEdges" fill="#808080"><rect x="14" y="2" width="3" height="2" fill="#8c8c8c"/><rect x="14" y="6" width="6" height="1"/><rect x="14" y="8" width="5" height="1"/><rect x="14" y="10" width="3" height="1"/></g><use href="#plus" x="22" y="12"/></g>
<text x="30.7" y="12" font-family='"Noto Sans CJK SC","WenQuanYi Zen Hei",sans-serif' font-size="12px" fill="#000" stroke="#000" stroke-width="0.2" textLength="37.2" lengthAdjust="spacingAndGlyphs">新订单</text>
<g><path d="M79.2,9.8L85.3,1.3L94.6,7.6L88.2,13.9Z" fill="url(#gold)" stroke="#b47a10" stroke-width="0.8"/><path d="M79.2,9.8L80.2,11.6L86.6,15.7L95,10.4L94.6,7.6L88.2,13.9Z" fill="#d9a436" stroke="#a86c0c" stroke-width="0.7"/></g>
<g><path d="M109.3,-1H120.1V9.4H109.3Z" fill="url(#bl)"/><path d="M109.3,-1H112.4V9.4H109.3Z" fill="#1878e0"/><rect x="113.4" y="2.6" width="6" height="6" fill="#8fd0ff"/><path d="M114.4,4.2H118.4M114.4,6.2H117.2" stroke="#f2faff" stroke-width="1.1"/><path d="M110.4,15.7C106.4,15.7 106.2,11.4 109.6,11C109.8,8 114.6,7.2 115.8,10C118,8.8 120.6,10 120.2,11.8C123.6,11.8 123.6,15.7 120.4,15.7Z" fill="url(#cl)" stroke="#46629c" stroke-width="1"/></g>
<g fill="none"><path d="M143,8L150.4,8A7.4,7.4 0 0 1 143,15.4Z" fill="#d6ecd6" stroke="none"/><path d="M143,0.5A7.5,7.5 0 0 0 143,15.5" stroke="#a9c0ee" stroke-width="1.2"/><path d="M143,0.5A7.5,7.5 0 0 1 143,15.5" stroke="#9ccc9c" stroke-width="1.2"/><path d="M143,3.5A4.5,4.5 0 0 0 141,12" stroke="#4a74d6" stroke-width="1.5"/><path d="M143,3.5A4.5,4.5 0 0 1 145.6,11.6" stroke="#6ab46a" stroke-width="1.5"/><circle cx="142.8" cy="7.7" r="2" fill="#2a52cc" stroke="none"/><path d="M143.6,8.2V15.8" stroke="#1fa51f" stroke-width="1.8"/></g>
<g><path d="M162.4,7.6H177.6L172,15.9H169.6Z" fill="#f9dc50" stroke="#cfa61c" stroke-width="0.7"/><path d="M163.6,8H170L166.4,11.4Z" fill="#fff3a0" opacity="0.8"/><path d="M166.9,4C166.9,-2 173.4,-2 173.4,4Z" fill="#6ab8ea" stroke="#3c88be" stroke-width="0.5"/><ellipse cx="170.2" cy="4.4" rx="7.9" ry="2.3" fill="#58aae0" stroke="#3a84ba" stroke-width="0.6"/><path d="M166.9,3.4C168.6,4.4 171.8,4.4 173.4,3.4" fill="none" stroke="#3c86bc" stroke-width="0.7"/><circle cx="174.4" cy="11.5" r="4.2" fill="url(#rd)"/><rect x="172.9" y="10" width="3" height="3" fill="#fff"/></g>
<text x="182.7" y="12" font-family='"Noto Sans CJK SC","WenQuanYi Zen Hei",sans-serif' font-size="12px" fill="#000" stroke="#000" stroke-width="0.2" textLength="48.3" lengthAdjust="spacingAndGlyphs">自动交易</text>
<use href="#axes" x="254" y="0"/><path d="M262.4,3.3V11.6M262.4,4.5H265M260.2,10.7H262.4" fill="none" stroke="#0a8a0a" stroke-width="1.3"/>
<use href="#axes" x="282" y="0"/><path d="M290.4,-1V11.8" stroke="#0a8a0a" stroke-width="1.2"/><rect x="288.2" y="2.2" width="4.4" height="7.5" fill="#46f046" stroke="#0a960a" stroke-width="0.9"/>
<use href="#axes" x="310" y="0"/><path d="M311.4,10.8C313.6,9.6 315.4,5.2 317.4,5.4C319.2,5.6 320.6,8.6 322.8,9.2" fill="none" stroke="#1e8e1e" stroke-width="1.2"/>
<g><path d="M351.9,9.6L356.7,14.6" stroke="#a87a00" stroke-width="3.2" stroke-linecap="round"/><path d="M352,9.6L356.5,14.4" stroke="#ecc21a" stroke-width="2" stroke-linecap="round"/><circle cx="348.1" cy="5.7" r="5.5" fill="#d9efff" stroke="#2a72c4" stroke-width="1.1"/>
<path d="M345.1,5.8H351.1M348.1,2.8V8.8" stroke="#3c84b4" stroke-width="1.5" fill="none"/></g>
<g><path d="M380,9.6L384.8,14.6" stroke="#a87a00" stroke-width="3.2" stroke-linecap="round"/><path d="M380.1,9.6L384.6,14.4" stroke="#ecc21a" stroke-width="2" stroke-linecap="round"/><circle cx="376.2" cy="5.7" r="5.5" fill="#d9efff" stroke="#2a72c4" stroke-width="1.1"/>
<path d="M373.2,5.8H379.2" stroke="#3c84b4" stroke-width="1.5" fill="none"/></g>
<rect x="398.2" y="-0.5" width="7.8" height="8" fill="#3ea414"/><rect x="399.3" y="2.7" width="5.6" height="4.1" fill="#fff"/><rect x="400.4" y="3.9" width="3.4" height="0.9" fill="#3ea414" opacity="0.55"/><rect x="399.2" y="0.5" width="0.9" height="0.9" fill="#fff" opacity="0.8"/>
<rect x="406.3" y="-0.5" width="7.8" height="8" fill="#1c52d2"/><rect x="407.4" y="2.7" width="5.6" height="4.1" fill="#fff"/><rect x="408.5" y="3.9" width="3.4" height="0.9" fill="#1c52d2" opacity="0.55"/><rect x="407.3" y="0.5" width="0.9" height="0.9" fill="#fff" opacity="0.8"/>
<rect x="398.2" y="7.8" width="7.8" height="8" fill="#1c52d2"/><rect x="399.3" y="11" width="5.6" height="4.1" fill="#fff"/><rect x="400.4" y="12.2" width="3.4" height="0.9" fill="#1c52d2" opacity="0.55"/><rect x="399.2" y="8.8" width="0.9" height="0.9" fill="#fff" opacity="0.8"/>
<rect x="406.3" y="7.8" width="7.8" height="8" fill="#3ea414"/><rect x="407.4" y="11" width="5.6" height="4.1" fill="#fff"/><rect x="408.5" y="12.2" width="3.4" height="0.9" fill="#3ea414" opacity="0.55"/><rect x="407.3" y="8.8" width="0.9" height="0.9" fill="#fff" opacity="0.8"/>
<use href="#axes" x="434.1" y="0"/><path d="M441,4.2V10.6L445.2,7.4Z" fill="#3cd83c" stroke="#149414" stroke-width="0.9"/>
<use href="#axes" x="462.1" y="0"/><path d="M470.4,2V11.8" stroke="#1270b4" stroke-width="1.4"/><path d="M471.4,7.4H476" stroke="#e04a0a" stroke-width="1.1"/><path d="M471.2,7.4L474,5.6L473.4,7.4L474,9.2Z" fill="#e04a0a"/>
<g><path d="M495.6,0.4H503.4L506.6,3.6V13.3H495.6Z" fill="#fff" stroke="#787878" stroke-width="1"/><path d="M503.4,0.4V3.6H506.6" fill="#f4f4f4" stroke="#787878" stroke-width="0.9"/><path d="M500.6,2.4C498.6,2.4 499.4,10.8 497.8,10.8M498.4,6H501" fill="none" stroke="#4e4638" stroke-width="1"/><use href="#plus" x="505" y="12"/></g>
<use href="#dd" x="516.8" y="6.8"/>
<g><rect x="539.6" y="-1" width="2.8" height="1.6" fill="#1a6cd0"/><circle cx="541" cy="8.2" r="6.7" fill="#fbfbfb" stroke="url(#clk)" stroke-width="2.7"/><circle cx="541" cy="8.2" r="4.1" fill="none" stroke="#b8b8b8" stroke-width="0.8" stroke-dasharray="0.6 1.55"/><path d="M540.6,3.6V8.6H543.6" fill="none" stroke="#222" stroke-width="1.2"/><circle cx="541" cy="11.4" r="0.8" fill="#8ab8ee"/></g>
<use href="#dd" x="555.9" y="6.8"/>
<g><rect x="572.5" y="1.4" width="15.2" height="13.2" fill="#fff" stroke="#3a74c6" stroke-width="1"/><rect x="573" y="1.6" width="14.2" height="2.2" fill="#4a8ad8"/><path d="M573,9H587.2" stroke="#4a80cc" stroke-width="0.9"/><path d="M574.6,7.4L576.4,7.2L578.4,5.6L580.4,6.6L582.4,6.4L584.4,5.4L585.8,5.6" fill="none" stroke="#a42408" stroke-width="1.1"/><path d="M575.6,12.6L577.4,11.8L579.6,12.6L581.4,11.8L583,10.6L584.4,11.4L585.6,12.6" fill="none" stroke="#148a14" stroke-width="1.1"/></g>
<use href="#dd" x="594.7" y="6.8"/>
<path d="M624,0.9V11.9L626.6,9.6L629,14.9L630.9,14L628.5,8.9L632.3,8.3Z" fill="#505050"/>
<path d="M656.5,1.2V7.4M656.5,9.6V15.7M649,8.5H655.4M657.6,8.5H664" stroke="#505050" stroke-width="1.3" fill="none"/>
<path d="M690.5,2V14.8M713,8.5H725.2" stroke="#505050" stroke-width="1.3" fill="none"/><path d="M740.9,14.8L753,2.7" stroke="#505050" stroke-width="1.1" fill="none"/>
<g stroke="#505050" fill="none" stroke-width="0.9"><path d="M766.9,9.8L775.2,1.9M768.6,14.4L780.6,3M772,14.8L781,6.4"/><path d="M770,6.8L769,13.6M772.8,4.4L771.6,12.2M775.6,2L774.6,9.6M778.6,-1L778.2,6"/></g>
<text x="777.9" y="16.9" font-family='"Liberation Sans",sans-serif' font-size="6.6px" font-weight="bold" fill="#404040">E</text>
<g stroke="#505050" stroke-width="0.9" stroke-dasharray="0.9 1.1" fill="none"><path d="M796,1.4H809.2M796,4.5H809.2M796,8.3H809.2M796,12.3H804.8"/></g>
<text x="805.6" y="16.6" font-family='"Liberation Sans",sans-serif' font-size="6.6px" font-weight="bold" fill="#404040">F</text>
<text x="826.6" y="12.9" font-family='"Liberation Sans",sans-serif' font-size="12.6px" fill="#585858" stroke="#585858" stroke-width="0.3">A</text>
<rect x="853.4" y="2.6" width="11" height="11.8" fill="none" stroke="#505050" stroke-width="0.9" stroke-dasharray="0.9 1.1"/><rect x="852.4" y="1.4" width="1.8" height="1" fill="#505050"/>
<text x="855" y="12.8" font-family='"Liberation Sans",sans-serif' font-size="10.8px" font-weight="bold" fill="#585858" textLength="8" lengthAdjust="spacingAndGlyphs">T</text>
<g fill="#505050"><path d="M880.2,5.2L883.6,2L887,5.2L883.6,6.6Z"/><path d="M887.2,11.4L890.6,10L894,11.4L890.6,14.8Z"/><path d="M882.6,9.2L884.8,11.2L889.2,6.4" fill="none" stroke="#505050" stroke-width="1.1"/></g>
<use href="#dd" x="900.8" y="6.8"/>
<g font-family='"Liberation Sans",sans-serif' font-size="9.3px" fill="#3c3c3c">
<text x="927.7" y="12">M1</text>
<text x="955.5" y="12">M5</text>
<text x="981.8" y="12">M15</text>
<text x="1009.6" y="12">M30</text>
<text x="1040.5" y="12">H1</text>
<text x="1067.6" y="12">H4</text>
<text x="1096.8" y="12">D1</text>
<text x="1124.1" y="12">W1</text>
<text x="1150.4" y="12">MN</text>
</g>
<g><path d="M1641,8.2L1635.6,13" stroke="#2456c8" stroke-width="2.4" stroke-linecap="round"/><path d="M1640.4,8.6L1636,12.6" stroke="#7da2ee" stroke-width="0.7" stroke-dasharray="0.7 0.8"/><circle cx="1643.7" cy="5.5" r="3.7" fill="#f4f6ff" stroke="#2a5ed0" stroke-width="1.2"/></g>
<g><path d="M1661,10C1661,6.6 1664,5.2 1667,5.2C1670.4,5.2 1672.6,7 1672.6,10C1672.6,12.8 1670,14 1666.6,14L1663.6,16.4L1664,13.6C1662,13 1661,11.6 1661,10Z" fill="#e8e8f0" stroke="#a8a8a8" stroke-width="0.8"/><circle cx="1674.6" cy="6.1" r="8.2" fill="url(#rd)"/><text x="1670.9" y="10.2" font-family='"Liberation Sans",sans-serif' font-size="12px" fill="#fff">1</text></g>
</svg>
</body></html>
